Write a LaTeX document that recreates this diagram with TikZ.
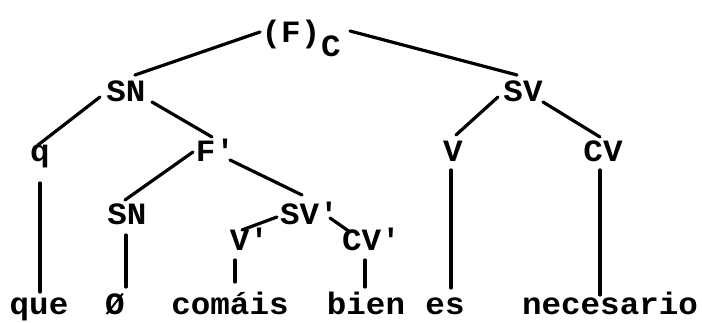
\documentclass[tikz,border=0pt]{standalone}
\usepackage{fontspec}
\setmainfont{Liberation Mono}[FakeStretch=1.05]
\newcommand{\pr}{\textquotesingle}
\begin{document}
\begin{tikzpicture}[x=1pt,y=-1pt,
  lab/.style={anchor=base,inner sep=0pt,font=\bfseries\fontsize{31}{31}\selectfont},
  br/.style={line width=3.2pt,line cap=round}]
\useasboundingbox (0,0) rectangle (702,323);
% category labels, placed by their baselines
\node[lab] (root) at (291,43) {(F)};
\node[lab] (c)    at (331,57) {C};
\node[lab] (sn)   at (126,102) {SN};
\node[lab] (sv)   at (523,102) {SV};
\node[lab] (q)    at (40,162)  {q};
\node[lab] (fp)   at (215,162) {F\pr};
\node[lab] (v)    at (453,162) {V};
\node[lab] (cv)   at (603,162) {CV};
\node[lab] (sn2)  at (127,225) {SN};
\node[lab] (svp)  at (309,225) {SV\pr};
\node[lab] (vp)   at (249,251) {V\pr};
\node[lab] (cvp)  at (371,251) {CV\pr};
% terminal words
\node[lab] (que)  at (39,315)  {que};
\node[lab] (nul)  at (115,315) {Ø};
\node[lab] (com)  at (230,315) {comáis};
\node[lab] (bien) at (366,315) {bien};
\node[lab] (es)   at (445,315) {es};
\node[lab] (nec)  at (610,315) {necesario};
% branches
\draw[br] ([shift={(-31,-11)}]root.base) -- ([shift={(9,-27)}]sn.base);
\draw[br] ([shift={(59,-12)}]root.base) -- ([shift={(-6,-27)}]sv.base);
\draw[br] ([shift={(-26,-5)}]sn.base) -- ([shift={(-2,-17)}]q.base);
\draw[br] ([shift={(26,0)}]sn.base) -- ([shift={(-3,-25)}]fp.base);
\draw[br] ([shift={(-25,-5)}]sv.base) -- ([shift={(3,-27)}]v.base);
\draw[br] ([shift={(20,0)}]sv.base) -- ([shift={(-3,-25)}]cv.base);
\draw[br] ([shift={(-22,-10)}]fp.base) -- ([shift={(-2,-25)}]sn2.base);
\draw[br] ([shift={(15,-2)}]fp.base) -- ([shift={(-7,-30)}]svp.base);
\draw[br] ([shift={(-32,-8)}]svp.base) -- ([shift={(-7,-21)}]vp.base);
\draw[br] ([shift={(21,-7)}]svp.base) -- ([shift={(-21,-19)}]cvp.base);
\draw[br] ([shift={(0,21)}]q.base) -- ([shift={(1,-23)}]que.base);
\draw[br] ([shift={(-1,10)}]sn2.base) -- ([shift={(11,-28)}]nul.base);
\draw[br] ([shift={(-14,9)}]vp.base) -- ([shift={(5,-33)}]com.base);
\draw[br] ([shift={(-6,9)}]cvp.base) -- ([shift={(-1,-28)}]bien.base);
\draw[br] ([shift={(-2,8)}]v.base) -- ([shift={(6,-27)}]es.base);
\draw[br] ([shift={(-3,8)}]cv.base) -- ([shift={(-10,-20)}]nec.base);
\end{tikzpicture}
\end{document}
